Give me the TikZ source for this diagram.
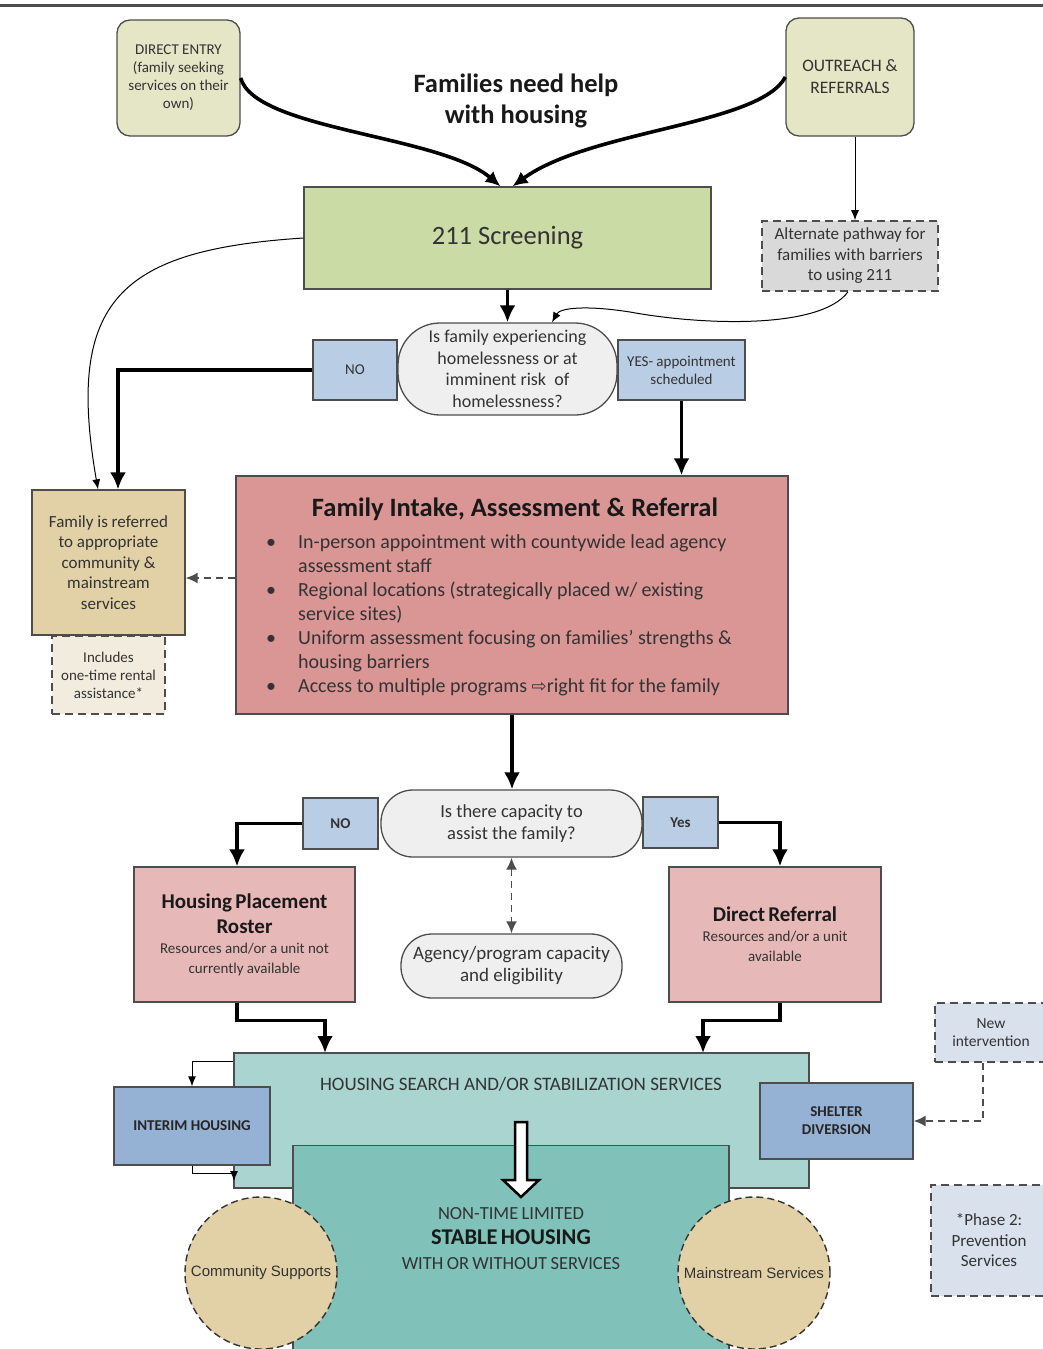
\documentclass[tikz,border=0pt]{standalone}
\usepackage{fontspec}
\setmainfont{Carlito}
\newfontfamily\arialfont{Liberation Sans}
\newfontfamily\symbfont{DejaVu Sans}
\usetikzlibrary{arrows.meta,positioning,calc}
\tikzset{>={Latex}}
\definecolor{linecol}{HTML}{4D4D4D}
\definecolor{textcol}{HTML}{333333}
\definecolor{entrycol}{HTML}{E4E6C6}
\definecolor{screencol}{HTML}{CADBA6}
\definecolor{altcol}{HTML}{D9D9D9}
\definecolor{askcol}{HTML}{EFEFEF}
\definecolor{answercol}{HTML}{B9CDE4}
\definecolor{tancol}{HTML}{E2D1A6}
\definecolor{notecol}{HTML}{F2ECDE}
\definecolor{intakecol}{HTML}{D99694}
\definecolor{placecol}{HTML}{E6B9B8}
\definecolor{searchcol}{HTML}{A9D4D0}
\definecolor{stablecol}{HTML}{80C1BA}
\definecolor{interimcol}{HTML}{95B1D3}
\definecolor{phasecol}{HTML}{D9E1ED}
\tikzset{
  basebox/.style={draw=linecol,line width=1.3pt,text=textcol,align=center,inner sep=2pt},
  entrybox/.style={basebox,fill=entrycol,rounded corners=13pt},
  dashbox/.style={basebox,dash pattern=on 8pt off 5pt,line width=1.6pt},
  askbox/.style={basebox,fill=askcol},
  answerbox/.style={basebox,fill=answercol,font=\fontsize{15}{18}\selectfont},
  unitbox/.style={basebox,fill=interimcol,text=black!85,font=\bfseries\fontsize{15}{18}\selectfont},
  supportcirc/.style={circle,draw=black!80,dash pattern=on 7pt off 4pt,line width=1.4pt,fill=tancol,
    minimum size=152pt,inner sep=0pt,text=textcol,font=\arialfont\fontsize{15}{18}\selectfont},
  flowline/.style={->,line width=3.6pt,>={Latex[length=17pt,width=16pt]}},
  bigcurve/.style={->,line width=3.6pt,>={Latex[length=15pt,width=14pt]}},
  thinflow/.style={->,line width=1pt,>={Latex[length=10pt,width=8pt]}},
  dashflow/.style={->,draw=linecol,line width=1.8pt,dash pattern=on 7pt off 5pt,>={Latex[length=12pt,width=11pt]}},
}

\begin{document}
\begin{tikzpicture}[x=1pt,y=-1pt]
  \useasboundingbox (0,0) rectangle (1043,1349);
  \draw[line width=3pt,draw=linecol] (0,5) -- (1043,5);

  % entry points
  \node[entrybox,minimum width=123pt,minimum height=116pt,font=\fontsize{15}{18}\selectfont] (direct) at (178.5,78) {DIRECT ENTRY\\(family seeking\\services on their\\own)};
  \node[entrybox,minimum width=128pt,minimum height=118pt,font=\fontsize{17.5}{22}\selectfont] (outreach) at (850,77) {OUTREACH \&\\REFERRALS};
  \node[align=center,text=black!90,font=\bfseries\fontsize{26.5}{31}\selectfont] (need) at (516,101) {Families need help\\with housing};
  \node[basebox,fill=screencol,minimum width=407pt,minimum height=102pt,font=\fontsize{26.5}{30}\selectfont] (screen) at (507.5,238) {211 Screening};
  \node[dashbox,fill=altcol,minimum width=176pt,minimum height=70pt,font=\fontsize{17}{20.5}\selectfont] (alt) at (850,256) {Alternate pathway for\\families with barriers\\to using 211};

  % first question
  \node[askbox,minimum width=219pt,minimum height=92pt,rounded corners=42pt,font=\fontsize{18}{21.5}\selectfont] (risk) at (507.5,369) {Is family experiencing\\homelessness or at\\imminent risk\ \ of\\homelessness?};
  \node[answerbox,minimum width=84pt,minimum height=60pt] (no1) at (355,370) {NO};
  \node[answerbox,minimum width=127pt,minimum height=60pt] (yes1) at (681.5,370) {YES- appointment\\scheduled};

  \node[basebox,fill=tancol,minimum width=153pt,minimum height=145pt,font=\fontsize{17}{20.5}\selectfont] (referred) at (108.5,562.5) {Family is referred\\to appropriate\\community \&\\mainstream\\services};
  \node[dashbox,fill=notecol,minimum width=113pt,minimum height=78pt,font=\fontsize{15}{18}\selectfont] (includes) at (108.5,675) {Includes\\one-time rental\\assistance*};

  % intake
  \node[basebox,fill=intakecol,minimum width=552pt,minimum height=238pt] (intake) at (512,595) {};
  \node[text=black!90,font=\bfseries\fontsize{26.5}{30}\selectfont] (intaketitle) at (515,509) {Family Intake, Assessment \& Referral};
  \node[anchor=north west,inner sep=0pt,text=textcol,font=\fontsize{20}{24}\selectfont] (intakelist) at (266,531) {%
    \begin{tabular}{@{}l@{}l@{}}
      \makebox[32pt][l]{\textbullet} & In-person appointment with countywide lead agency\\
       & assessment staff\\
      \makebox[32pt][l]{\textbullet} & Regional locations (strategically placed w/ existing\\
       & service sites)\\
      \makebox[32pt][l]{\textbullet} & Uniform assessment focusing on families’ strengths \&\\
       & housing barriers\\
      \makebox[32pt][l]{\textbullet} & Access to multiple programs {\symbfont\fontsize{18}{18}\selectfont ⇨}right fit for the family
    \end{tabular}};

  % second question
  \node[askbox,minimum width=261pt,minimum height=67pt,rounded corners=32pt,font=\fontsize{18.5}{22}\selectfont] (capacity) at (511.5,823.5) {Is there capacity to\\assist the family?};
  \node[answerbox,minimum width=75pt,minimum height=51pt,font=\bfseries\fontsize{15}{18}\selectfont] (no2) at (340.5,823.5) {NO};
  \node[answerbox,minimum width=75pt,minimum height=51pt,font=\bfseries\fontsize{15}{18}\selectfont] (yes2) at (680.5,822.5) {Yes};
  \node[askbox,minimum width=221pt,minimum height=64pt,rounded corners=31pt,font=\fontsize{19}{22}\selectfont] (agency) at (511.5,966) {Agency/program capacity\\and eligibility};

  \node[basebox,fill=placecol,minimum width=221pt,minimum height=135pt,text width=214pt] (roster) at (244.5,934.5) {{\bfseries\color{black!90}\fontsize{21}{25}\selectfont Housing Placement\\Roster\par}\fontsize{15}{20}\selectfont Resources and/or a unit not\\currently available\par};
  \node[basebox,fill=placecol,minimum width=212pt,minimum height=135pt,text width=205pt] (referral) at (775,934.5) {{\bfseries\color{black!90}\fontsize{21}{24}\selectfont Direct Referral\par}\fontsize{15}{20}\selectfont Resources and/or a unit\\available\par};

  % services
  \node[basebox,fill=searchcol,minimum width=575pt,minimum height=135pt] (search) at (521.5,1120.5) {};
  \node[text=textcol,font=\fontsize{19}{22}\selectfont] (searchtext) at (521,1084) {HOUSING SEARCH AND/OR STABILIZATION SERVICES};
  \node[unitbox,minimum width=156pt,minimum height=78pt] (interim) at (192,1126) {INTERIM HOUSING};
  \node[unitbox,minimum width=153pt,minimum height=76pt] (shelter) at (836.5,1121) {SHELTER\\DIVERSION};
  \node[basebox,fill=stablecol,minimum width=436pt,minimum height=220pt,anchor=north] (stable) at (511,1145) {};
  \node[text width=420pt,align=center,text=textcol] (stabletext) at (511,1239) {{\fontsize{18.5}{24}\selectfont NON-TIME LIMITED\par}{\bfseries\color{black!90}\fontsize{22.5}{25}\selectfont STABLE HOUSING\par}\fontsize{18.5}{25}\selectfont WITH OR WITHOUT SERVICES\par};
  \draw[line width=2.5pt,fill=white] (515,1122) -- (527,1122) -- (527,1180) -- (539,1180) -- (521,1197) -- (503,1180) -- (515,1180) -- cycle;
  \node[supportcirc] (community) at (261,1273) {Community Supports};
  \node[supportcirc] (mainstream) at (754,1273) {Mainstream Services};

  \node[dashbox,fill=phasecol,minimum width=112pt,minimum height=59pt,font=\fontsize{15.5}{18}\selectfont] (newint) at (991,1032.5) {New\\intervention};
  \node[dashbox,fill=phasecol,minimum width=116pt,minimum height=111pt,font=\fontsize{17}{20.5}\selectfont] (phase) at (989,1240.5) {*Phase 2:\\Prevention\\Services};

  % connectors
  \draw[bigcurve] (direct.east) .. controls (255,130) and (440,135) .. ([xshift=-7pt]screen.north);
  \draw[bigcurve] (outreach.west) .. controls (760,125) and (590,130) .. ([xshift=5pt]screen.north);
  \draw[thinflow] ([xshift=5pt]outreach.south) -- ([xshift=5pt]alt.north);
  \draw[flowline] (screen.south) -- (risk.north);
  \draw[thinflow] ([xshift=-2pt]alt.south) .. controls (820,330) and (700,325) .. (630,312) .. controls (585,305) and (560,308) .. ([xshift=44.5pt]risk.north);
  \draw[thinflow] (screen.west) .. controls (120,250) and (65,300) .. ([xshift=-10.5pt]referred.north);
  \draw[flowline] (no1.west) -| ([xshift=9.5pt]referred.north);
  \draw[flowline] (yes1.south) -- (yes1.south |- intake.north);
  \draw[dashflow] ([yshift=17pt]intake.west) -- ([yshift=17pt]intake.west -| referred.east);
  \draw[flowline] (intake.south) -- (intake.south |- capacity.north);
  \draw[flowline] (no2.west) -| ([xshift=-7.5pt]roster.north);
  \draw[flowline] (yes2.east) -| ([xshift=5pt]referral.north);
  \draw[dashflow,<->] (capacity.south) -- (agency.north);
  \coordinate (searchin1) at (325,1053);
  \coordinate (searchin2) at (703,1053);
  \draw[flowline] ([xshift=-7.5pt]roster.south) -- ++(0,18) -| (searchin1);
  \draw[flowline] ([xshift=5pt]referral.south) -- ++(0,18) -| (searchin2);
  \coordinate (searchback) at (234,1181);
  \draw[thinflow] ([yshift=-9pt]search.north west) -| (interim.north);
  \draw[thinflow] (interim.south) -- ++(0,8) -| (searchback);
  \draw[dashflow] ([xshift=-8pt]newint.south) |- (shelter.east);
\end{tikzpicture}
\end{document}
